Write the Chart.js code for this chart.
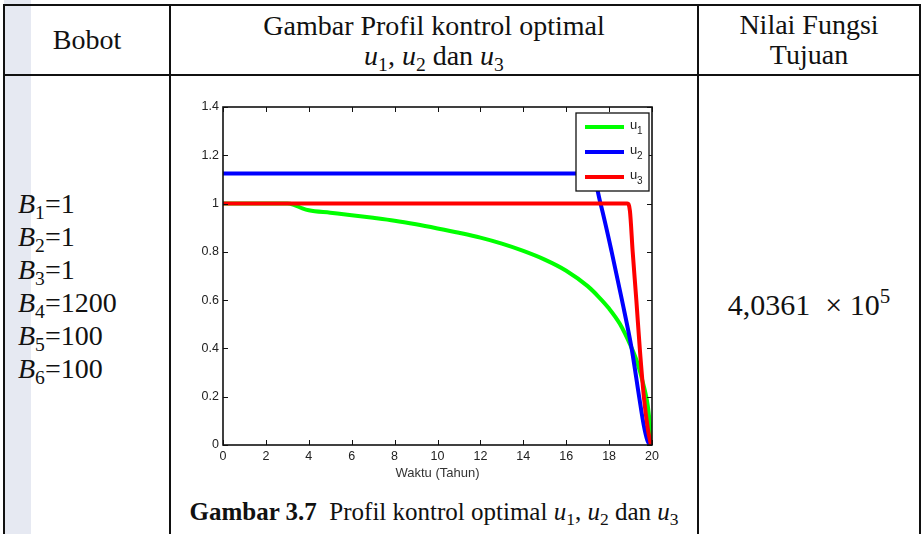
<!DOCTYPE html>
<html>
<head>
<meta charset="utf-8">
<script src="https://cdn.jsdelivr.net/npm/chart.js@4.4.0/dist/chart.umd.min.js"></script>
<style>
  body { margin:0; width:923px; height:534px; overflow:hidden; background:#fff; position:relative;
         font-family:'Liberation Serif','Times New Roman',serif; color:#111; }
  .ln { position:absolute; background:#111; }
  .txt { position:absolute; text-align:center; white-space:nowrap; }
  sub { font-size:0.7em; vertical-align:-0.3em; line-height:0; }
  sup { font-size:0.7em; vertical-align:0.55em; line-height:0; }
  #chartBox { position:absolute; left:180px; top:95px; }
</style>
</head>
<body>
<div style="position:absolute;left:4px;top:0;width:27px;height:534px;background:#e6e9f2"></div>

<div class="ln" style="left:3px;top:4px;width:918px;height:2px"></div>
<div class="ln" style="left:3px;top:74px;width:918px;height:2px"></div>
<div class="ln" style="left:3px;top:4px;width:2px;height:530px"></div>
<div class="ln" style="left:169px;top:4px;width:2px;height:530px"></div>
<div class="ln" style="left:697px;top:4px;width:2px;height:530px"></div>
<div class="ln" style="left:919px;top:4px;width:2px;height:530px"></div>

<div class="txt" style="left:5px;width:164px;top:25px;line-height:30px;font-size:28px">Bobot</div>
<div class="txt" style="left:171px;width:526px;top:11px;line-height:30px;font-size:28px">Gambar Profil kontrol optimal<br><i>u</i><sub>1</sub>, <i>u</i><sub>2</sub> dan <i>u</i><sub>3</sub></div>
<div class="txt" style="left:699px;width:220px;top:10px;line-height:30px;font-size:28px">Nilai Fungsi<br>Tujuan</div>

<div class="txt" style="left:18px;top:187px;line-height:33px;font-size:28px;text-align:left">
<i>B</i><sub>1</sub>=1<br><i>B</i><sub>2</sub>=1<br><i>B</i><sub>3</sub>=1<br><i>B</i><sub>4</sub>=1200<br><i>B</i><sub>5</sub>=100<br><i>B</i><sub>6</sub>=100
</div>

<div class="txt" style="left:699px;width:220px;top:288px;line-height:34px;font-size:30px">4,0361&nbsp;&nbsp;×&nbsp;10<sup>5</sup></div>

<div class="txt" style="left:171px;width:526px;top:497px;line-height:30px;font-size:25px"><b>Gambar 3.7</b>&nbsp; Profil kontrol optimal <i>u</i><sub>1</sub>, <i>u</i><sub>2</sub> dan <i>u</i><sub>3</sub></div>

<div id="chartBox"><canvas id="canvas" width="490" height="388"></canvas></div>

<script>
// nilai
var u1Time  = [0, 1, 2, 3, 3.3, 3.7, 4, 5, 6, 7, 8, 9, 10, 11, 12, 13, 14, 15, 16, 17, 17.5, 18, 18.5, 19, 19.3, 19.6, 19.8, 20];
var u1Value = [1, 1, 1, 1, 0.995, 0.98, 0.972, 0.962, 0.952, 0.941, 0.929, 0.914, 0.897, 0.879, 0.859, 0.834, 0.804, 0.768, 0.722, 0.658, 0.615, 0.565, 0.502, 0.412, 0.345, 0.25, 0.165, 0];

var u2Time  = [0, 17.2, 17.6, 18.12, 18.6, 19.05, 19.4, 19.62, 19.78, 19.9];
var u2Value = [1.125, 1.125, 1.0, 0.8, 0.6, 0.4, 0.2, 0.08, 0.02, 0];

var u3Time  = [0, 18.85, 18.97, 19.1, 19.27, 19.43, 19.62, 19.8, 19.95];
var u3Value = [1, 1, 0.97, 0.8, 0.6, 0.4, 0.2, 0.07, 0];

var seriesNames  = ['u1', 'u2', 'u3'];
var seriesColors = ['#00ff00', '#0000ff', '#ff0000'];

var xTickLabels = ['0', '2', '4', '6', '8', '10', '12', '14', '16', '18', '20'];
var yTickLabels = ['0', '0.2', '0.4', '0.6', '0.8', '1', '1.2', '1.4'];

function toPoints(t, v) {
  var pts = [];
  for (var i = 0; i < t.length; i++) pts.push({x: t[i], y: v[i]});
  return pts;
}

var frame = {
  id: 'frame',
  afterDatasetsDraw: function(chart) {
    var ctx = chart.ctx, a = chart.chartArea;
    var xs = chart.scales.x, ys = chart.scales.y;
    ctx.save();
    ctx.strokeStyle = '#111';
    ctx.lineWidth = 1;
    ctx.beginPath();
    xs.ticks.forEach(function(t) {
      var px = Math.round(xs.getPixelForValue(t.value)) + 0.5;
      ctx.moveTo(px, a.bottom); ctx.lineTo(px, a.bottom - 5);
      ctx.moveTo(px, a.top); ctx.lineTo(px, a.top + 5);
    });
    ys.ticks.forEach(function(t) {
      var py = Math.round(ys.getPixelForValue(t.value)) + 0.5;
      ctx.moveTo(a.left, py); ctx.lineTo(a.left + 5, py);
      ctx.moveTo(a.right, py); ctx.lineTo(a.right - 5, py);
    });
    ctx.stroke();
    ctx.lineWidth = 1.6;
    ctx.strokeRect(a.left, a.top, a.right - a.left, a.bottom - a.top);

    // legenda
    var bx = a.right - 76, by = a.top + 6, bw = 73, bh = 78;
    ctx.fillStyle = '#fff';
    ctx.fillRect(bx, by, bw, bh);
    ctx.strokeStyle = '#111';
    ctx.lineWidth = 1.3;
    ctx.strokeRect(bx, by, bw, bh);
    for (var i = 0; i < seriesNames.length; i++) {
      var ly = by + 14 + i * 25;
      ctx.strokeStyle = seriesColors[i];
      ctx.lineWidth = 4;
      ctx.beginPath();
      ctx.moveTo(bx + 9, ly); ctx.lineTo(bx + 48, ly);
      ctx.stroke();
      ctx.fillStyle = '#222';
      ctx.textBaseline = 'middle';
      ctx.font = '13px "Liberation Sans", Arial, sans-serif';
      ctx.fillText(seriesNames[i].charAt(0), bx + 54, ly - 2);
      ctx.font = '10px "Liberation Sans", Arial, sans-serif';
      ctx.fillText(seriesNames[i].slice(1), bx + 61, ly + 4);
    }
    ctx.restore();
  }
};

var ctx = document.getElementById('canvas').getContext('2d');
var config = {
  type: 'line',
  data: {
    datasets: [
      { label: seriesNames[0], data: toPoints(u1Time, u1Value), borderColor: seriesColors[0], order: 3 },
      { label: seriesNames[1], data: toPoints(u2Time, u2Value), borderColor: seriesColors[1], order: 2 },
      { label: seriesNames[2], data: toPoints(u3Time, u3Value), borderColor: seriesColors[2], order: 1 }
    ]
  },
  options: {
    responsive: false,
    animation: false,
    devicePixelRatio: 1,
    layout: { padding: { left: 0, top: 12, right: 18, bottom: 0 } },
    elements: {
      line: { borderWidth: 4, cubicInterpolationMode: 'monotone', borderJoinStyle: 'round', fill: false },
      point: { radius: 0, hoverRadius: 0 }
    },
    plugins: { legend: { display: false }, tooltip: { enabled: false } },
    scales: {
      x: {
        type: 'linear', min: 0, max: 20,
        ticks: {
          stepSize: 2, padding: 4, color: '#222',
          font: { family: 'Liberation Sans', size: 12.5 },
          callback: function(v, i) { return xTickLabels[i]; }
        },
        grid: { display: false, drawTicks: false },
        border: { display: false },
        title: { display: true, text: 'Waktu (Tahun)', color: '#333',
                 font: { family: 'Liberation Sans', size: 13 }, padding: { top: 0, bottom: 2 } },
        afterFit: function(s) { s.height = 38; }
      },
      y: {
        type: 'linear', min: 0, max: 1.4,
        ticks: {
          stepSize: 0.2, padding: 4, color: '#222',
          font: { family: 'Liberation Sans', size: 12.5 },
          callback: function(v, i) { return yTickLabels[i]; }
        },
        grid: { display: false, drawTicks: false },
        border: { display: false },
        afterFit: function(s) { s.width = 43; }
      }
    }
  },
  plugins: [frame]
};

var chart = new Chart(ctx, config);
</script>
</body>
</html>
